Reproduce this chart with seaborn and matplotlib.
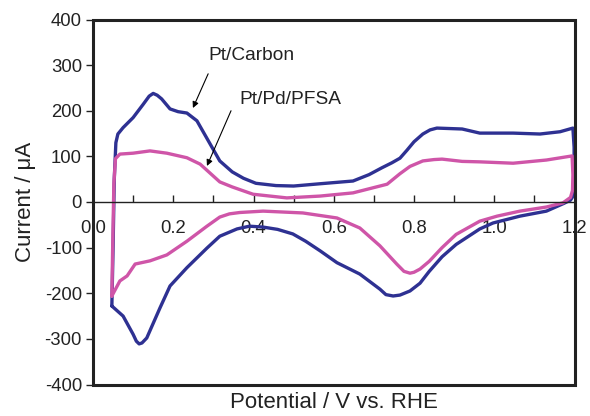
import matplotlib
matplotlib.use("Agg")
import matplotlib.pyplot as plt
import seaborn as sns
import pandas as pd
from matplotlib.patches import Rectangle

# ---- data ----
# Pt/Carbon: anodic sweep (low -> high potential) then cathodic sweep (high -> low)
carbon_v = [0.047, 0.050, 0.053, 0.057, 0.062, 0.075, 0.100, 0.125, 0.140, 0.150, 0.160,
            0.171, 0.192, 0.212, 0.234, 0.259, 0.292, 0.316, 0.347, 0.375, 0.406, 0.456,
            0.500, 0.566, 0.648, 0.688, 0.720, 0.745, 0.765, 0.782, 0.800, 0.822, 0.840,
            0.857, 0.920, 0.964, 1.047, 1.114, 1.164, 1.196, 1.199, 1.199, 1.198,
            1.190, 1.171, 1.130, 1.064, 0.997, 0.964, 0.905, 0.870, 0.838, 0.815, 0.790,
            0.765, 0.748, 0.730, 0.715, 0.665, 0.608, 0.566, 0.530, 0.498, 0.460, 0.424,
            0.390, 0.359, 0.316, 0.284, 0.234, 0.192, 0.167, 0.134, 0.122, 0.115, 0.108,
            0.100, 0.075, 0.047, 0.047]
carbon_i = [-228, -100, 50, 130, 149, 163, 185, 214, 232, 238, 234,
            226, 204, 198, 195, 178, 127, 90, 66, 52, 41, 36,
            35, 40, 46, 60, 75, 86, 96, 113, 132, 149, 158,
            162, 160, 151, 151, 149, 154, 162, 120, 50, 15,
            4, -4, -20, -31, -46, -59, -93, -120, -152, -178, -195,
            -204, -206, -203, -191, -158, -133, -107, -86, -70, -60, -55,
            -53, -59, -75, -101, -144, -184, -232, -298, -309, -311, -305,
            -290, -250, -228, -228]

# Pt/Pd/PFSA
pfsa_v = [0.047, 0.049, 0.052, 0.056, 0.067, 0.100, 0.142, 0.184, 0.234, 0.267, 0.316,
          0.347, 0.399, 0.483, 0.566, 0.648, 0.733, 0.765, 0.790, 0.822, 0.850, 0.870,
          0.920, 0.964, 1.047, 1.130, 1.194, 1.196, 1.195, 1.190,
          1.171, 1.130, 1.064, 1.007, 0.964, 0.905, 0.870, 0.838, 0.815, 0.800, 0.790,
          0.775, 0.757, 0.715, 0.665, 0.608, 0.523, 0.424, 0.366, 0.340, 0.316, 0.284,
          0.234, 0.184, 0.142, 0.105, 0.085, 0.067, 0.047]
pfsa_i = [-206, -100, 40, 95, 105, 107, 112, 107, 97, 83, 44,
          33, 17, 9, 13, 20, 39, 62, 78, 90, 93, 94,
          89, 88, 85, 92, 101, 60, 25, 10,
          -2, -11, -20, -31, -42, -71, -100, -130, -147, -154, -156,
          -152, -136, -96, -57, -35, -24, -20, -23, -26, -33, -53,
          -86, -116, -129, -136, -162, -173, -206]

labels = ["Pt/Carbon", "Pt/Pd/PFSA"]
colors = ["#2E3192", "#CF55A8"]
xticks = [0.0, 0.2, 0.4, 0.6, 0.8, 1.0, 1.2]
yticks = [-400, -300, -200, -100, 0, 100, 200, 300, 400]

frames = []
for lab, v, i in [(labels[0], carbon_v, carbon_i), (labels[1], pfsa_v, pfsa_i)]:
    frames.append(pd.DataFrame({"Potential": v, "Current": i, "Sample": lab}))
df = pd.concat(frames, ignore_index=True)

sns.set_theme(style="white")
plt.rcParams["font.family"] = ["Liberation Sans", "DejaVu Sans"]
plt.rcParams["axes.unicode_minus"] = False

fig = plt.figure(figsize=(5.9, 4.16), dpi=100)
ax = fig.add_axes([93 / 590, 1 - 384.5 / 416, 481.5 / 590, 365 / 416])

for lab, col in zip(labels, colors):
    sub = df[df["Sample"] == lab]
    sns.lineplot(data=sub, x="Potential", y="Current", sort=False, estimator=None,
                 color=col, linewidth=2.4, ax=ax, legend=False)
for ln in ax.lines:
    ln.set_solid_joinstyle("round")

ax.set_xlim(0, 1.2)
ax.set_ylim(-400, 400)

# x axis drawn through zero
for s in ["top", "right", "left"]:
    ax.spines[s].set_visible(False)
ax.spines["bottom"].set_position(("data", 0))
ax.spines["bottom"].set_linewidth(1.0)
ax.spines["bottom"].set_color("#222222")
ax.add_patch(Rectangle((0, 0), 1, 1, transform=ax.transAxes, fill=False,
                       lw=2.2, edgecolor="#222222", clip_on=False, zorder=5))

ax.set_xticks(xticks)
ax.set_xticklabels([f"{t:.1f}" for t in xticks])
ax.set_xticks([0.1, 0.3, 0.5, 0.7, 0.9, 1.1], minor=True)
ax.tick_params(axis="x", which="both", direction="in", length=5, width=1,
               color="#222222", pad=13, labelsize=13.3, labelcolor="#222222",
               bottom=True)
ax.set_yticks(yticks)
ax.tick_params(axis="y", which="major", direction="out", length=5, width=1,
               color="#222222", pad=3, labelsize=13.3, labelcolor="#222222", left=True)

ax.set_xlabel("Potential / V vs. RHE", fontsize=16, color="#222222")
ax.xaxis.set_label_coords(0.5, -0.02, transform=ax.transAxes)
ax.set_ylabel("Current / μA", fontsize=16, color="#222222", labelpad=6)

ax.text(0.396, 322, "Pt/Carbon", ha="center", va="center", fontsize=13.8,
        color="#222222")
ax.text(0.491, 224, "Pt/Pd/PFSA", ha="center", va="center", fontsize=13.8,
        color="#222222")
ax.annotate("", xy=(0.249, 206), xytext=(0.287, 281),
            arrowprops=dict(arrowstyle="-|>", color="black", lw=0.8,
                            mutation_scale=9, shrinkA=0, shrinkB=0))
ax.annotate("", xy=(0.284, 79), xytext=(0.344, 200),
            arrowprops=dict(arrowstyle="-|>", color="black", lw=0.8,
                            mutation_scale=9, shrinkA=0, shrinkB=0))

fig.savefig("out.png", dpi=100)
